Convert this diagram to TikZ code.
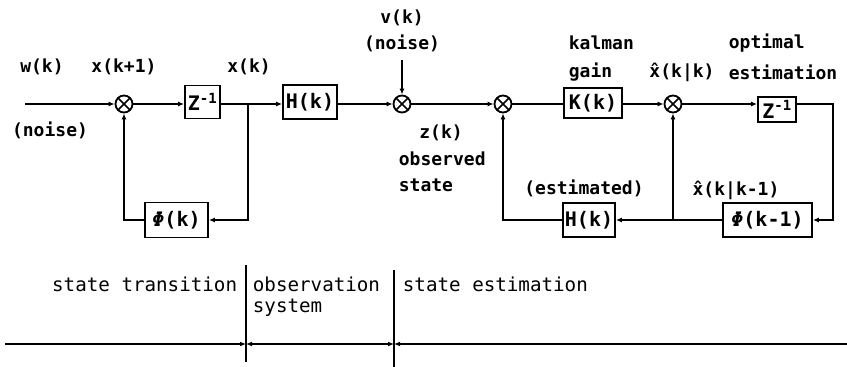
\documentclass[tikz,border=0pt]{standalone}
\usepackage{fontspec}
\newfontfamily\dfont{DejaVu Sans Mono}
\usetikzlibrary{arrows.meta}
\begin{document}
\begin{tikzpicture}[x=1pt,y=-1pt,
  line width=1.8pt,
  lbl/.style={font=\dfont\bfseries\fontsize{18}{22}\selectfont, inner sep=0pt},
  btxt/.style={font=\dfont\fontsize{19.2}{23}\selectfont, inner sep=0pt},
  blk/.style={draw, font=\dfont\bfseries\fontsize{20}{24}\selectfont, inner sep=0pt, minimum height=34pt},
  sumn/.style={draw, circle, minimum size=17pt, inner sep=0pt,
    path picture={\draw[line width=1.5pt] (path picture bounding box.north west) -- (path picture bounding box.south east)
      (path picture bounding box.north east) -- (path picture bounding box.south west);}},
  arr/.style={-{Latex[length=6pt,width=5pt]}},
  darr/.style={{Latex[length=6pt,width=5pt]}-{Latex[length=6pt,width=5pt]}},
  larr/.style={{Latex[length=6pt,width=5pt]}-}]
\useasboundingbox (0,0) rectangle (847,367);

% blocks
\node[sumn] (s1) at (124,104) {};
\node[blk, minimum width=35pt, minimum height=33pt] (z1) at (202.5,102) {Z\textsuperscript{-1}};
\coordinate (b1) at (248,104);
\node[blk, minimum width=54pt] (h1) at (310,102) {H(k)};
\node[sumn] (s2) at (402,104) {};
\node[sumn] (s3) at (503,104) {};
\node[blk, minimum width=58pt, minimum height=30pt] (kk) at (593,103) {K(k)};
\node[sumn] (s4) at (673,104) {};
\node[blk, minimum width=38pt, minimum height=25pt] (z2) at (777,109.5) {Z\textsuperscript{-1}};
\coordinate (c1) at (833,104);
\node[blk, minimum width=89pt] (p2) at (767.5,220) {{\itshape Φ}(k-1)};
\coordinate (b2) at (673,220);
\node[blk, minimum width=52pt] (h2) at (589,220) {H(k)};
\node[blk, minimum width=63pt, minimum height=35pt] (p1) at (176.5,220) {{\itshape Φ}(k)};
\coordinate (in) at (25,104);
\coordinate (vtop) at (402,60);

% connectors
\draw[arr] (in) -- (s1.west);
\draw[arr] (s1.east) -- (s1 -| z1.west);
\draw (s1 -| z1.east) -- (b1);
\draw[arr] (b1) -- (b1 -| h1.west);
\draw[arr] (b1) |- (p1.east);
\draw[arr] (p1.west) -| (s1.south);
\draw[arr] (s2 -| h1.east) -- (s2.west);
\draw[arr] (vtop) -- (s2.north);
\draw[arr] (s2.east) -- (s3.west);
\draw (s3.east) -- (s3 -| kk.west);
\draw[arr] (s3 -| kk.east) -- (s4.west);
\draw[arr] (s4.east) -- (s4 -| z2.west);
\draw[arr] (s4 -| z2.east) -- (c1) |- (p2.east);
\draw[arr] (p2.west) -- (h2.east);
\draw[arr] (b2) -- (s4.south);
\draw[arr] (h2.west) -| (s3.south);

% labels
\node[lbl] (lw) at (42,67) {w(k)};
\node[lbl] (lx1) at (124,67) {x(k+1)};
\node[lbl] (lx) at (249,67) {x(k)};
\node[lbl] (ln1) at (50,130) {(noise)};
\node[lbl] (lv) at (402,18) {v(k)};
\node[lbl] (ln2) at (402,43) {(noise)};
\node[lbl] (lz) at (441,133) {z(k)};
\node[lbl, anchor=west] (lobs) at (398,159) {observed};
\node[lbl, anchor=west] (lst) at (398,185) {state};
\node[lbl, anchor=west] (lkal) at (568,43) {kalman};
\node[lbl, anchor=west] (lgain) at (568,72) {gain};
\node[lbl] (lxkk) at (682,72) {x̂(k|k)};
\node[lbl, anchor=west] (lopt) at (728,43) {optimal};
\node[lbl, anchor=west] (lest) at (728,72) {estimation};
\node[lbl] (lestd) at (584,188) {(estimated)};
\node[lbl] (lxkk1) at (736,190) {x̂(k|k-1)};

% bottom
\node[btxt, anchor=east] (tst) at (238,284) {state transition};
\node[btxt, anchor=west] (tobs) at (252,284) {observation};
\node[btxt, anchor=west] (tsys) at (252,308) {system};
\node[btxt, anchor=west] (tse) at (402,284) {state estimation};
\coordinate (l0) at (5,344);
\coordinate (v1) at (246,344);
\coordinate (v2) at (394,344);
\coordinate (l3) at (847,344);
\coordinate (v1t) at (246,265);
\coordinate (v1b) at (246,362);
\coordinate (v2t) at (394,270);
\coordinate (v2b) at (394,367);
\draw (v1t) -- (v1b);
\draw (v2t) -- (v2b);
\draw[arr] (l0) -- (v1);
\draw[darr] (v1) -- (v2);
\draw[larr] (v2) -- (l3);
\end{tikzpicture}
\end{document}
